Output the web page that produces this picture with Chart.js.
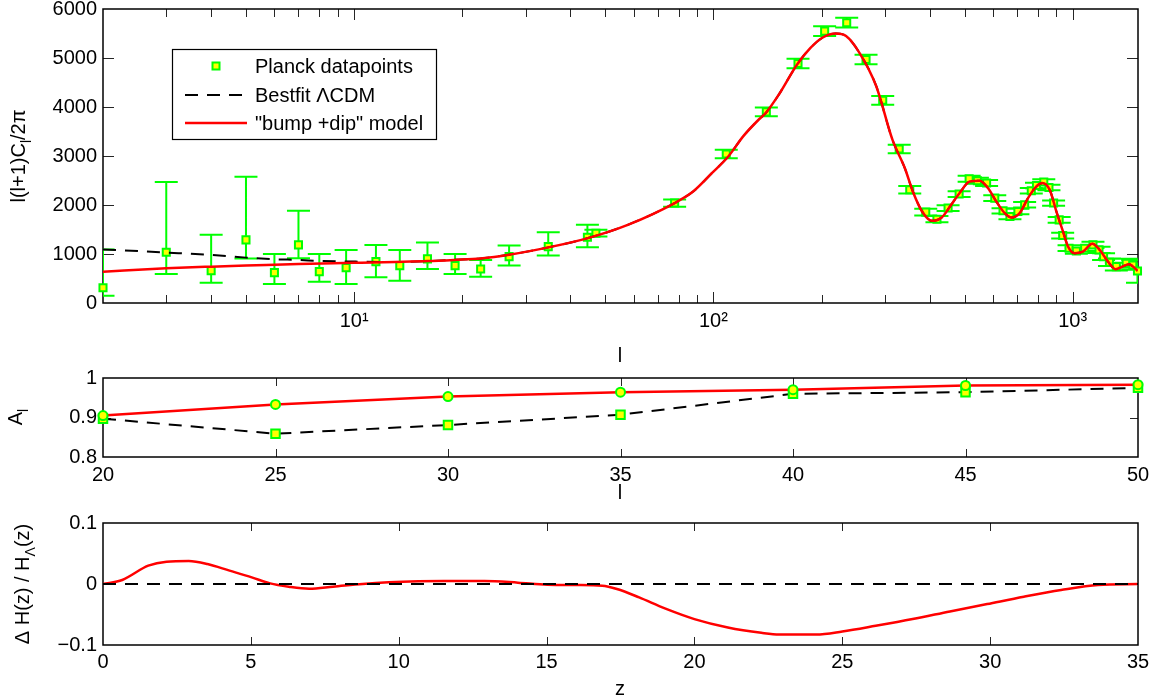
<!DOCTYPE html>
<html><head><meta charset="utf-8">
<script src="https://cdn.jsdelivr.net/npm/chart.js@4.4.0/dist/chart.umd.min.js"></script>
<style>
html,body{margin:0;padding:0;background:#fff;}
#wrap{position:relative;width:1160px;height:700px;overflow:hidden;}
canvas{position:absolute;left:0;}
</style></head><body>
<div id="wrap">
<canvas id="c1" width="1160" height="370" style="top:0px"></canvas>
<canvas id="c2" width="1160" height="130" style="top:370px"></canvas>
<canvas id="c3" width="1160" height="200" style="top:500px"></canvas>
</div>
<script>
// ---------- DATA ----------
// Top panel: Planck datapoints
const planckL = [2,3,4,5,6,7,8,9.5,11.5,13.4,16,19.1,22.5,27,34.7,44.6,47.1,78,108.6,140.4,172,204,235,266,296,329,352,390,419,450,483,515,543,576,607,640,669,704,735,767,793,831,859,885,917,938,977,1024,1080,1139,1184,1219,1266,1323,1409,1470,1515];
const planckD = [310,1037,661,1288,620,1186,640,722,845,763,900,763,695,947,1151,1343,1425,2039,3041,3900,4888,5548,5720,4969,4137,3143,2311,1855,1711,1937,2223,2536,2495,2448,2141,1881,1765,1867,2004,2290,2399,2468,2358,2039,1697,1376,1119,1063,1119,1186,1084,947,832,742,812,777,654];
const planckErrUp = [780,1431,730,1289,382,695,362,362,341,321,333,239,184,225,295,252,68,75,85,90,95,100,100,95,90,85,75,70,65,60,60,60,60,60,60,55,55,55,55,55,55,55,55,55,60,60,60,60,60,65,65,70,75,80,90,100,150];
const planckErrDn = [160,444,246,382,231,272,204,333,320,307,205,170,157,184,184,204,69,75,85,90,95,100,100,95,90,85,75,70,65,60,60,60,60,60,60,55,55,55,55,55,55,55,55,55,60,60,60,60,60,65,65,70,75,80,90,100,240];
// Best-fit LCDM, low-l part
const lcdmLowL = [2,3,4,5,6,7,8,10,13];
const lcdmLowV = [1094,1030,981,926,893,879,859,845,838];
// bump+dip model, low-l part
const modelLowL = [2,3,4,5,7,10,13];
const modelLowV = [640,709,742,763,797,820,838];
// common high-l part (curves coincide)
const commonL = [16,19,22.5,27,35,45,58,78,88,99,110,121,134,140,152,171,186,201,219,234,255,284,315,341,359,381,406,432,459,488,517,551,581,613,647,675,712,751,793,823,863,901,940,971,1013,1068,1134,1189,1254,1317,1375,1434,1517];
const commonV = [855,880,910,985,1140,1330,1600,2040,2280,2650,2990,3400,3750,3880,4250,4867,5200,5413,5500,5447,5106,4424,3333,2754,2277,1867,1677,1745,2004,2277,2481,2495,2346,2072,1834,1745,1834,2141,2379,2448,2311,1867,1458,1151,1016,1049,1207,1084,845,689,742,791,654];
const topYTicks = [0,1000,2000,3000,4000,5000,6000];
const topXLabels = {10:'10\u00B9',100:'10\u00B2',1000:'10\u00B3'};

// Middle panel: A_l
const aL = [20,25,30,35,40,45,50];
const aModel = [0.905,0.933,0.953,0.964,0.9705,0.981,0.983];
const aLCDM = [0.897,0.859,0.881,0.907,0.960,0.964,0.975];

// Bottom panel: Delta H / H
const zVals = [0,0.65,1.53,2.15,2.9,3.53,4.28,5.03,5.65,6.28,6.97,7.78,8.78,9.66,10.66,11.53,12.9,14.03,15.03,16.03,16.88,17.38,18.13,19.0,20.0,21.13,22.26,22.87,24.12,25.0,26.13,27.38,28.64,29.9,31.14,32.4,33.65,35];
const dH = [0,0.0066,0.030,0.0366,0.0377,0.0328,0.0219,0.0109,0.001,-0.0044,-0.0077,-0.0044,0,0.0027,0.0044,0.0049,0.0049,0.0022,-0.0011,-0.0016,-0.0027,-0.0082,-0.022,-0.040,-0.0575,-0.0713,-0.080,-0.0828,-0.0828,-0.0778,-0.0685,-0.0575,-0.045,-0.0329,-0.0209,-0.0099,-0.0016,0];
const zZeroX = [0,35];
const zZeroY = [0,0];

// ---------- STYLE / HELPERS ----------
const FONT = "'Liberation Sans', Arial, Helvetica, sans-serif";
const GREEN = '#00ff00', YELLOW = '#ffff00', RED = '#ff0000';
const pts = (xs, ys) => xs.map((x, i) => ({x, y: ys[i]}));

function drawRich(ctx, parts, cx, cy, rotate, size) {
  ctx.save();
  const widths = parts.map(p => { ctx.font = (p.sub ? Math.round(size*0.7) : size) + 'px ' + FONT; return ctx.measureText(p.t).width; });
  const total = widths.reduce((a, b) => a + b, 0);
  ctx.translate(cx, cy);
  if (rotate) ctx.rotate(-Math.PI / 2);
  ctx.fillStyle = '#000';
  ctx.textBaseline = 'alphabetic';
  let x = -total / 2;
  parts.forEach((p, i) => {
    ctx.font = (p.sub ? Math.round(size*0.7) : size) + 'px ' + FONT;
    ctx.fillText(p.t, x, size * 0.36 + (p.sub ? size * 0.3 : 0));
    x += widths[i];
  });
  ctx.restore();
}

const framePlugin = {
  id: 'frame',
  beforeDatasetsDraw(chart, args, o) {
    const {ctx, chartArea: a} = chart;
    const xs = chart.scales.x, ys = chart.scales.y;
    ctx.save();
    ctx.strokeStyle = '#262626';
    ctx.lineWidth = 1;
    ctx.beginPath();
    (o.xMajor || []).forEach(v => { const p = Math.round(xs.getPixelForValue(v)) + 0.5;
      ctx.moveTo(p, a.bottom); ctx.lineTo(p, a.bottom - o.len);
      ctx.moveTo(p, a.top); ctx.lineTo(p, a.top + o.len); });
    (o.xMinor || []).forEach(v => { const p = Math.round(xs.getPixelForValue(v)) + 0.5;
      ctx.moveTo(p, a.bottom); ctx.lineTo(p, a.bottom - o.minorLen);
      ctx.moveTo(p, a.top); ctx.lineTo(p, a.top + o.minorLen); });
    (o.yMajor || []).forEach(v => { const p = Math.round(ys.getPixelForValue(v)) + 0.5;
      ctx.moveTo(a.left, p); ctx.lineTo(a.left + o.len, p);
      ctx.moveTo(a.right, p); ctx.lineTo(a.right - o.len, p); });
    ctx.stroke();
    ctx.strokeStyle = '#000';
    ctx.lineWidth = 1.5;
    ctx.strokeRect(a.left, a.top, a.right - a.left, a.bottom - a.top);
    ctx.restore();
    // error bars
    if (o.err) {
      ctx.save();
      ctx.beginPath(); ctx.rect(a.left, a.top, a.right - a.left, a.bottom - a.top); ctx.clip();
      ctx.strokeStyle = GREEN; ctx.lineWidth = 2;
      ctx.beginPath();
      o.err.x.forEach((l, i) => {
        const px = xs.getPixelForValue(l);
        const yt = ys.getPixelForValue(o.err.y[i] + o.err.up[i]);
        const yb = ys.getPixelForValue(o.err.y[i] - o.err.dn[i]);
        ctx.moveTo(px, yt); ctx.lineTo(px, yb);
        ctx.moveTo(px - 11.5, yt); ctx.lineTo(px + 11.5, yt);
        ctx.moveTo(px - 11.5, yb); ctx.lineTo(px + 11.5, yb);
      });
      ctx.stroke();
      ctx.restore();
    }
  },
  afterDraw(chart, args, o) {
    const ctx = chart.ctx;
    (o.titles || []).forEach(t => drawRich(ctx, t.parts, t.x, t.y, t.rot, 20));
    if (o.legend) {
      const L = o.legend;
      ctx.save();
      ctx.fillStyle = '#fff'; ctx.fillRect(L.x, L.y, L.w, L.h);
      ctx.strokeStyle = '#000'; ctx.lineWidth = 1.2; ctx.strokeRect(L.x + 0.5, L.y + 0.5, L.w, L.h);
      ctx.font = '20px ' + FONT; ctx.fillStyle = '#000'; ctx.textBaseline = 'middle';
      L.items.forEach(it => {
        const ds = chart.data.datasets[it.ds];
        if (it.kind === 'point') {
          ctx.fillStyle = ds.pointBackgroundColor; ctx.strokeStyle = ds.pointBorderColor; ctx.lineWidth = 2;
          ctx.fillRect(L.mx - 3.5, it.y - 3.5, 7, 7); ctx.strokeRect(L.mx - 3.5, it.y - 3.5, 7, 7);
        } else {
          ctx.strokeStyle = ds.borderColor; ctx.lineWidth = ds.borderWidth;
          ctx.setLineDash(ds.borderDash || []);
          ctx.beginPath(); ctx.moveTo(L.lx0, it.y); ctx.lineTo(L.lx1, it.y); ctx.stroke();
          ctx.setLineDash([]);
        }
        ctx.fillStyle = '#000';
        ctx.fillText(ds.label, L.tx, it.y + 1);
      });
      ctx.restore();
    }
  }
};

function fixX(h) { return s => { s.height = h; s.paddingLeft = 0; s.paddingRight = 0; }; }
function fixY(w) { return s => { s.width = w; s.paddingTop = 0; s.paddingBottom = 0; }; }
const tickFont = {family: FONT, size: 20};
const noGrid = {display: false, drawTicks: false};
Chart.defaults.font.family = FONT;
Chart.defaults.color = '#000';

// ---------- TOP CHART ----------
new Chart(document.getElementById('c1'), {
  type: 'scatter',
  data: { datasets: [
    { label: '"bump +dip" model', data: pts(modelLowL.concat(commonL), modelLowV.concat(commonV)), showLine: true,
      borderColor: RED, borderWidth: 2.5, pointRadius: 0, cubicInterpolationMode: 'monotone' },
    { label: 'Bestfit \u039BCDM', data: pts(lcdmLowL.concat(commonL), lcdmLowV.concat(commonV)), showLine: true,
      borderColor: '#000', borderWidth: 2, borderDash: [13, 9], pointRadius: 0, cubicInterpolationMode: 'monotone' },
    { label: 'Planck datapoints', data: pts(planckL, planckD), showLine: false, pointStyle: 'rect', pointRadius: 5,
      pointBackgroundColor: YELLOW, pointBorderColor: GREEN, pointBorderWidth: 2, clip: false }
  ]},
  options: {
    responsive: false, animation: false, events: [],
    layout: { padding: {left: 0, right: 22, top: 9, bottom: 0} },
    plugins: { legend: {display: false}, tooltip: {enabled: false},
      frame: {
        xMajor: [10, 100, 1000], xMinor: [3,4,5,6,7,8,9,20,30,40,50,60,70,80,90,200,300,400,500,600,700,800,900],
        yMajor: [1000,2000,3000,4000,5000], len: 11, minorLen: 8,
        err: {x: planckL, y: planckD, up: planckErrUp, dn: planckErrDn},
        titles: [
          {parts: [{t: 'l(l+1)C'}, {t: 'l', sub: true}, {t: '/2\u03C0'}], x: 18, y: 156, rot: true},
          {parts: [{t: 'l'}], x: 620, y: 355, rot: false}
        ],
        legend: {x: 172, y: 49, w: 264, h: 90, mx: 216, lx0: 185, lx1: 247, tx: 255,
          items: [{ds: 2, kind: 'point', y: 66}, {ds: 1, kind: 'line', y: 95}, {ds: 0, kind: 'line', y: 123}]}
      } },
    scales: {
      x: { type: 'logarithmic', min: 2, max: 1520, grid: noGrid, border: {display: false},
        afterBuildTicks: s => { s.ticks = [{value: 10}, {value: 100}, {value: 1000}]; },
        ticks: { font: tickFont, padding: 6, maxRotation: 0, autoSkip: false, callback: v => topXLabels[v] || '' },
        afterFit: fixX(67) },
      y: { min: 0, max: 6000, grid: noGrid, border: {display: false},
        afterBuildTicks: s => { s.ticks = topYTicks.map(v => ({value: v})); },
        ticks: { font: tickFont, padding: 6, callback: v => String(v) },
        afterFit: fixY(103) }
    }
  },
  plugins: [framePlugin]
});

// ---------- MIDDLE CHART ----------
new Chart(document.getElementById('c2'), {
  type: 'scatter',
  data: { datasets: [
    { label: 'model', data: pts(aL, aModel), showLine: true, borderColor: RED, borderWidth: 2.5,
      pointStyle: 'circle', pointRadius: 4.5, pointBackgroundColor: YELLOW, pointBorderColor: GREEN, pointBorderWidth: 2, clip: false },
    { label: 'LCDM', data: pts(aL, aLCDM), showLine: true, borderColor: '#000', borderWidth: 2, borderDash: [13, 9],
      pointStyle: 'rect', pointRadius: 6, pointBackgroundColor: YELLOW, pointBorderColor: GREEN, pointBorderWidth: 2, clip: false }
  ]},
  options: {
    responsive: false, animation: false, events: [],
    layout: { padding: {left: 0, right: 22, top: 7, bottom: 0} },
    plugins: { legend: {display: false}, tooltip: {enabled: false},
      frame: { xMajor: [25,30,35,40,45], yMajor: [0.9], len: 8,
        titles: [
          {parts: [{t: 'A'}, {t: 'l', sub: true}], x: 15, y: 47, rot: true},
          {parts: [{t: 'l'}], x: 620, y: 122, rot: false}
        ] } },
    scales: {
      x: { min: 20, max: 50, grid: noGrid, border: {display: false},
        afterBuildTicks: s => { s.ticks = aL.map(v => ({value: v})); },
        ticks: { font: tickFont, padding: 6, maxRotation: 0, autoSkip: false, callback: v => String(v) },
        afterFit: fixX(43) },
      y: { min: 0.8, max: 1, grid: noGrid, border: {display: false},
        afterBuildTicks: s => { s.ticks = [{value: 0.8}, {value: 0.9}, {value: 1}]; },
        ticks: { font: tickFont, padding: 6, callback: v => (Math.abs(v - 1) < 1e-9 ? '1' : v.toFixed(1)) },
        afterFit: fixY(103) }
    }
  },
  plugins: [framePlugin]
});

// ---------- BOTTOM CHART ----------
new Chart(document.getElementById('c3'), {
  type: 'scatter',
  data: { datasets: [
    { label: 'LCDM', data: pts(zZeroX, zZeroY), showLine: true, borderColor: '#000', borderWidth: 2, borderDash: [13, 9], pointRadius: 0 },
    { label: 'model', data: pts(zVals, dH), showLine: true, borderColor: RED, borderWidth: 2.5, pointRadius: 0, cubicInterpolationMode: 'monotone' }
  ]},
  options: {
    responsive: false, animation: false, events: [],
    layout: { padding: {left: 0, right: 22, top: 23, bottom: 0} },
    plugins: { legend: {display: false}, tooltip: {enabled: false},
      frame: { xMajor: [5,10,15,20,25,30], yMajor: [0], len: 8,
        titles: [
          {parts: [{t: '\u0394 H(z) / H'}, {t: '\u039B', sub: true}, {t: '(z)'}], x: 22, y: 84, rot: true},
          {parts: [{t: 'z'}], x: 620, y: 188, rot: false}
        ] } },
    scales: {
      x: { min: 0, max: 35, grid: noGrid, border: {display: false},
        afterBuildTicks: s => { s.ticks = [0,5,10,15,20,25,30,35].map(v => ({value: v})); },
        ticks: { font: tickFont, padding: 5, maxRotation: 0, autoSkip: false, callback: v => String(v) },
        afterFit: fixX(55) },
      y: { min: -0.1, max: 0.1, grid: noGrid, border: {display: false},
        afterBuildTicks: s => { s.ticks = [{value: -0.1}, {value: 0}, {value: 0.1}]; },
        ticks: { font: tickFont, padding: 6, callback: v => (Math.abs(v) < 1e-9 ? '0' : (v < 0 ? '\u22120.1' : '0.1')) },
        afterFit: fixY(103) }
    }
  },
  plugins: [framePlugin]
});
</script>
</body></html>
